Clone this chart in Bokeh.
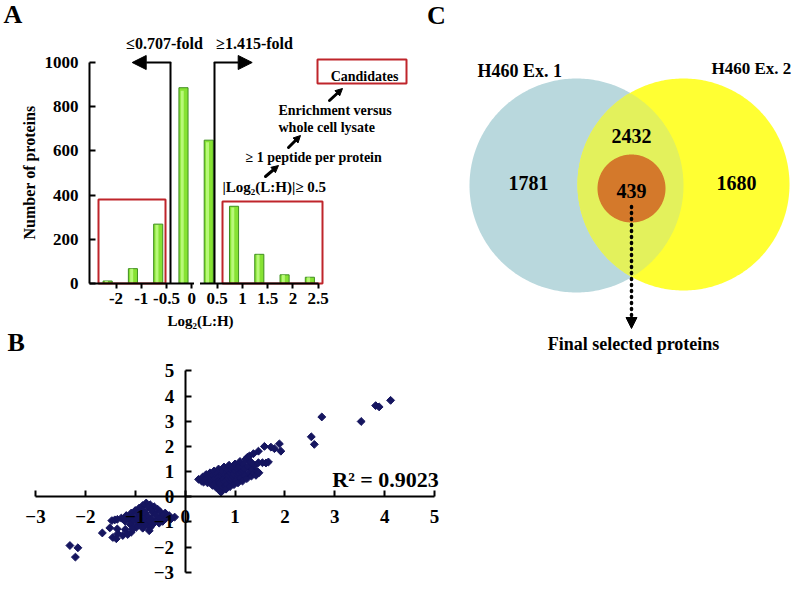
import numpy as np
from bokeh.plotting import figure
from bokeh.models import Range1d, LinearAxis, FixedTicker, Arrow, NormalHead
from bokeh.core.properties import value
from bokeh.embed import file_html
from bokeh.resources import INLINE

# ---------------- data ----------------
# Panel A: distribution of Log2(L:H)
hist_labels = ["-2", "-1", "-0.5", "0", "0.5", "1", "1.5", "2", "2.5"]
hist_counts = [10, 66, 268, 887, 649, 349, 131, 38, 27]
hist_yticks = [0, 200, 400, 600, 800, 1000]
fold_down_label = "≤0.707-fold"
fold_up_label = "≥1.415-fold"
step_labels = ["|Log₂(L:H)|≥ 0.5", "≥ 1 peptide per protein",
               "Enrichment versus", "whole cell lysate", "Candidates"]

# Panel B: replicate correlation (Ex.1 vs Ex.2 Log2 ratios)
right_cluster = [
    (0.27, 0.69), (0.33, 0.62), (0.35, 0.78), (0.37, 0.58), (0.40, 0.70), (0.42, 0.88),
    (0.44, 0.72), (0.45, 0.55), (0.48, 0.80), (0.50, 0.95), (0.52, 0.65), (0.53, 0.80),
    (0.55, 0.45), (0.56, 0.85), (0.58, 1.02), (0.60, 0.72), (0.61, 0.90), (0.62, 0.55),
    (0.63, 0.35), (0.64, 0.42), (0.65, 0.92), (0.66, 0.78), (0.67, 1.10), (0.68, 0.65),
    (0.69, 0.55), (0.70, 0.25), (0.71, 0.48), (0.72, 0.18), (0.73, 0.80), (0.74, 0.92),
    (0.75, 1.00), (0.76, 0.38), (0.77, 0.70), (0.78, 1.18), (0.79, 0.60), (0.80, 0.88),
    (0.81, 0.42), (0.82, 0.30), (0.83, 0.98), (0.84, 0.50), (0.85, 1.08), (0.86, 0.72),
    (0.87, 0.85), (0.88, 1.25), (0.90, 0.40), (0.91, 0.95), (0.92, 1.08), (0.93, 0.60),
    (0.94, 0.70), (0.95, 1.15), (0.96, 0.80), (0.97, 0.90), (0.98, 0.48), (1.00, 1.30),
    (1.01, 1.02), (1.02, 0.65), (1.04, 1.12), (1.05, 0.88), (1.06, 0.55), (1.08, 1.20),
    (1.09, 0.90), (1.10, 1.40), (1.11, 0.75), (1.13, 0.98), (1.15, 0.62), (1.16, 1.05),
    (1.17, 1.30), (1.19, 1.10), (1.20, 0.85), (1.22, 1.50), (1.24, 0.72), (1.26, 1.20),
    (1.28, 0.95), (1.30, 1.38), (1.33, 0.82), (1.35, 1.10), (1.38, 0.92), (1.40, 1.25),
    (1.42, 0.85), (1.45, 1.00), (1.48, 0.95),
]
right_tail = [
    (1.25, 1.57), (1.29, 1.62), (1.32, 1.38), (1.37, 1.71), (1.47, 1.81), (1.47, 1.35),
    (1.55, 1.35), (1.59, 2.00), (1.62, 1.34), (1.67, 1.38), (1.72, 1.97), (1.79, 1.91),
    (1.89, 2.10), (1.92, 1.81),
    (2.53, 2.38), (2.59, 2.08), (2.74, 3.17), (3.53, 2.99), (3.82, 3.62), (3.89, 3.57),
    (4.12, 3.83),
]
left_cluster = [
    (-0.78, -0.25), (-0.85, -0.35), (-0.70, -0.32), (-0.92, -0.45), (-0.75, -0.42),
    (-0.62, -0.40), (-1.00, -0.55), (-0.85, -0.55), (-0.68, -0.52), (-0.55, -0.50),
    (-1.08, -0.65), (-0.95, -0.65), (-0.80, -0.65), (-0.65, -0.62), (-0.50, -0.60),
    (-0.40, -0.65), (-1.18, -0.75), (-1.05, -0.78), (-0.90, -0.75), (-0.75, -0.78),
    (-0.60, -0.72), (-0.45, -0.75), (-0.32, -0.75), (-0.21, -0.81), (-1.28, -0.85),
    (-1.12, -0.88), (-0.98, -0.90), (-0.82, -0.90), (-0.68, -0.88), (-0.52, -0.88),
    (-0.38, -0.85), (-0.28, -0.88), (-1.20, -0.98), (-1.05, -1.00), (-0.90, -1.02),
    (-0.75, -1.00), (-0.60, -1.00), (-0.45, -0.98), (-1.10, -1.10), (-0.95, -1.12),
    (-0.80, -1.12), (-0.65, -1.10), (-0.52, -1.05), (-0.98, -1.22), (-0.85, -1.25),
    (-0.70, -1.22), (-0.72, -1.35),
]
left_tail = [
    (-1.41, -0.92), (-1.36, -0.90), (-1.47, -0.95), (-1.66, -1.44), (-1.51, -1.24),
    (-1.38, -1.67), (-1.45, -1.62), (-1.35, -1.47), (-1.25, -1.54), (-1.15, -1.50),
    (-1.08, -1.41), (-1.05, -1.28), (-1.36, -1.28), (-1.20, -1.30),
    (-2.31, -1.94), (-2.15, -2.03), (-2.20, -2.40),
]
scatter_ticks = [-3, -2, -1, 0, 1, 2, 3, 4, 5]
r2_label = "R² = 0.9023"

# Panel C: Venn diagram
set1_name = "H460 Ex. 1"
set2_name = "H460 Ex. 2"
only_ex1 = 1781
shared = 2432
only_ex2 = 1680
final_selected = 439
final_label = "Final selected proteins"

# ---------------- canvas ----------------
OX, OY, W, H = 0, 0, 796, 590   # default range = page pixels
p = figure(width=W, height=H, x_range=Range1d(OX, OX + W), y_range=Range1d(OY + H, OY),
           output_backend="svg", toolbar_location=None, min_border=0,
           x_axis_type=None, y_axis_type=None)
p.outline_line_color = None
p.background_fill_color = "white"
p.border_fill_color = "white"


def xmap(v0, X0, v1, X1):
    s = (X1 - X0) / (v1 - v0)
    return Range1d(v0 + (OX - X0) / s, v0 + (OX + W - X0) / s)


def ymap(v0, Y0, v1, Y1):
    s = (Y0 - Y1) / (v1 - v0)
    return Range1d(v0 + (Y0 - (OY + H)) / s, v0 + (Y0 - OY) / s)


p.extra_x_ranges = {"xa": xmap(0, 115.5, 8, 317.7), "xb": xmap(-3, 35, 5, 434)}
p.extra_y_ranges = {"ya": ymap(0, 282.7, 1000, 62.3), "yb": ymap(-3, 571.7, 5, 370.4)}

FONT = "Liberation Serif"


def txt(X, Y, s, size, align="center", angle=0.0):
    p.text(x=[X], y=[Y], text=[s], text_font=value(FONT), text_font_style="bold",
           text_font_size=f"{size}px", text_align=align, text_baseline="middle",
           angle=angle, text_color="black")


def arrow(X0, Y0, X1, Y1, size, lw, dash="solid"):
    p.add_layout(Arrow(end=NormalHead(size=size, fill_color="black", line_color="black",
                                      line_width=1),
                       x_start=X0, y_start=Y0, x_end=X1, y_end=Y1,
                       line_width=lw, line_color="black", line_dash=dash, line_cap="round"))


def style_axis(ax, size):
    ax.axis_line_color = "black"
    ax.axis_line_width = 2
    ax.major_tick_line_color = "black"
    ax.major_tick_line_width = 2
    ax.minor_tick_line_color = None
    ax.major_label_text_font = FONT
    ax.major_label_text_font_style = "bold"
    ax.major_label_text_font_size = size
    ax.major_label_text_color = "black"


# ---------------- Panel A ----------------
idx = list(range(len(hist_labels)))
bar_x = [i - 0.33 for i in idx]
p.vbar(x=bar_x, top=hist_counts, bottom=0, width=0.36, x_range_name="xa", y_range_name="ya",
       fill_color="#86e233", line_color="#3f8f1f", line_width=1)
p.vbar(x=[b - 0.05 for b in bar_x], top=[c * 0.985 for c in hist_counts], bottom=0, width=0.12,
       x_range_name="xa", y_range_name="ya", fill_color="#c4ff8a", line_color=None, fill_alpha=0.8)

axA_x = LinearAxis(x_range_name="xa", y_range_name="ya", fixed_location=0, bounds=(-1.05, 8.02),
                   ticker=FixedTicker(ticks=idx),
                   major_label_overrides={i: s for i, s in zip(idx, hist_labels)},
                   major_tick_in=0, major_tick_out=5, major_label_standoff=5)
style_axis(axA_x, "17px")
p.add_layout(axA_x, "below")
axA_y = LinearAxis(x_range_name="xa", y_range_name="ya", fixed_location=-1.05, bounds=(0, 1000),
                   ticker=FixedTicker(ticks=hist_yticks),
                   major_tick_in=6, major_tick_out=0, major_label_standoff=11)
style_axis(axA_y, "17px")
p.add_layout(axA_y, "left")
# small gap in the x axis line, as in the original figure
p.quad(left=[194], right=[199], top=[280], bottom=[287], color="white", level="overlay")

# red selection boxes
p.quad(left=[98, 222, 317], right=[165, 322, 406], top=[199, 201, 59], bottom=[283, 283, 83],
       fill_color=None, line_color="#bf252b", line_width=2)

# fold-change threshold arrows
p.segment(x0=[170, 214], y0=[283, 283], x1=[170, 214], y1=[62, 62], line_color="black",
          line_width=2)
arrow(170, 62, 131.7, 62, 14, 2)
arrow(214, 62, 251.7, 62, 14, 2)
txt(164, 43, fold_down_label, 16)
txt(254, 43, fold_up_label, 16)

# filtering steps
txt(222, 186, step_labels[0], 15, align="left")
txt(245, 157, step_labels[1], 14, align="left")
txt(278, 110, step_labels[2], 14, align="left")
txt(278, 127, step_labels[3], 14, align="left")
txt(364, 76, step_labels[4], 14)
arrow(265, 176, 278, 165, 7, 3)
arrow(288, 147, 300, 135, 7, 3)
arrow(329, 100, 342, 88, 7, 3)

txt(29, 172, "Number of proteins", 16, angle=np.pi / 2)
txt(200, 320, "Log₂(L:H)", 15)
txt(3, 14, "A", 26, align="left")

# ---------------- Panel B ----------------
pts = right_cluster + right_tail + left_cluster + left_tail
sx = [a for a, b in pts]
sy = [b for a, b in pts]
axB_x = LinearAxis(x_range_name="xb", y_range_name="yb", fixed_location=0, bounds=(-3, 5),
                   ticker=FixedTicker(ticks=scatter_ticks),
                   major_tick_in=6, major_tick_out=0, major_label_standoff=13)
style_axis(axB_x, "19px")
p.add_layout(axB_x, "below")
axB_y = LinearAxis(x_range_name="xb", y_range_name="yb", fixed_location=0, bounds=(-3, 5),
                   ticker=FixedTicker(ticks=scatter_ticks),
                   major_tick_in=6, major_tick_out=0, major_label_standoff=11)
style_axis(axB_y, "19px")
p.add_layout(axB_y, "left")
p.scatter(x=sx, y=sy, marker="square", angle=np.pi / 4, size=5.6, x_range_name="xb",
          y_range_name="yb", fill_color="#15155f", line_color="#15155f", line_width=1)
txt(385, 479, r2_label, 22)
txt(7, 342, "B", 26, align="left")

# ---------------- Panel C ----------------
def circle_pts(cx, cy, r, n=360):
    t = np.linspace(0, 2 * np.pi, n, endpoint=False)
    return cx + r * np.cos(t), cy + r * np.sin(t)


c1 = (576, 185, 107)
c2 = (683, 184, 106)
bx, by = circle_pts(*c1)
yx, yy = circle_pts(*c2)
p.patch(bx, by, fill_color="#b9d8dd", line_color=None)
p.patch(yx, yy, fill_color="#ffff33", line_color=None)
in2 = (bx - c2[0]) ** 2 + (by - c2[1]) ** 2 <= c2[2] ** 2
in1 = (yx - c1[0]) ** 2 + (yy - c1[1]) ** 2 <= c1[2] ** 2
lx = np.concatenate([bx[in2], yx[in1]])
ly = np.concatenate([by[in2], yy[in1]])
order = np.argsort(np.arctan2(ly - ly.mean(), lx - lx.mean()))
p.patch(lx[order], ly[order], fill_color="#e3f15c", line_color=None)
ox, oy = circle_pts(631, 188, 34)
p.patch(ox, oy, fill_color="#d4792b", line_color=None)

txt(436, 15, "C", 26)
txt(477, 70, set1_name, 18, align="left")
txt(711, 68, set2_name, 17, align="left")
txt(528, 182, str(only_ex1), 20)
txt(631, 135, str(shared), 20)
txt(736, 182, str(only_ex2), 20)
txt(631, 190, str(final_selected), 20)
arrow(631, 206, 631, 328, 11, 3.5, dash="1 5")
txt(633, 343, final_label, 18)

open("out.html", "w").write(file_html(p, INLINE))
